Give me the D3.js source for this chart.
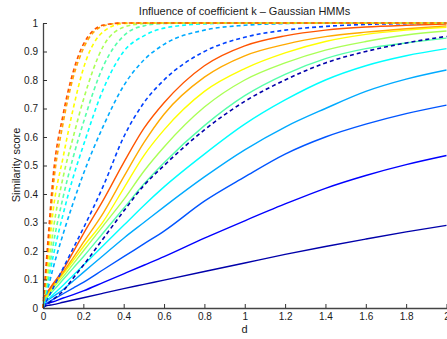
<!DOCTYPE html>
<html><head><meta charset="utf-8">
<script src="https://cdn.jsdelivr.net/npm/d3@7"></script>
<style>
html,body{margin:0;padding:0;background:#fff;}
svg{display:block;font-family:"Liberation Sans",Arial,Helvetica,sans-serif;}
</style></head>
<body>
<svg id="chart" width="447" height="339"></svg>
<script>
// ---- data ----
const dValues = [0, 0.025, 0.05, 0.1, 0.15, 0.2, 0.3, 0.4, 0.5, 0.6, 0.8, 1.0, 1.2, 1.4, 1.6, 1.8, 2.0];

// solid curves (bottom to top)
const solid1  = [0.005, 0.009, 0.012, 0.02, 0.028, 0.036, 0.052, 0.068, 0.083, 0.098, 0.128, 0.158, 0.188, 0.216, 0.242, 0.267, 0.29];
const solid2  = [0.01, 0.016, 0.022, 0.035, 0.047, 0.06, 0.09, 0.12, 0.15, 0.18, 0.245, 0.306, 0.365, 0.42, 0.465, 0.503, 0.535];
const solid3  = [0.01, 0.02, 0.03, 0.05, 0.07, 0.09, 0.135, 0.18, 0.225, 0.27, 0.375, 0.46, 0.54, 0.60, 0.645, 0.682, 0.712];
const solid4  = [0.015, 0.028, 0.04, 0.065, 0.095, 0.125, 0.185, 0.245, 0.30, 0.355, 0.46, 0.555, 0.635, 0.70, 0.76, 0.803, 0.835];
const solid5  = [0.015, 0.03, 0.047, 0.08, 0.115, 0.15, 0.22, 0.29, 0.36, 0.425, 0.54, 0.645, 0.73, 0.80, 0.85, 0.885, 0.91];
const solid6  = [0.02, 0.04, 0.06, 0.1, 0.14, 0.18, 0.265, 0.35, 0.435, 0.51, 0.64, 0.745, 0.82, 0.875, 0.91, 0.93, 0.947];
const solid7  = [0.02, 0.045, 0.07, 0.11, 0.155, 0.2, 0.29, 0.38, 0.48, 0.565, 0.705, 0.8, 0.86, 0.905, 0.935, 0.958, 0.972];
const solid8  = [0.025, 0.05, 0.075, 0.12, 0.167, 0.215, 0.305, 0.42, 0.535, 0.625, 0.76, 0.84, 0.895, 0.935, 0.96, 0.975, 0.985];
const solid9  = [0.03, 0.055, 0.08, 0.125, 0.177, 0.23, 0.335, 0.46, 0.58, 0.68, 0.81, 0.885, 0.925, 0.952, 0.968, 0.98, 0.99];
const solid10 = [0.035, 0.06, 0.085, 0.135, 0.197, 0.26, 0.38, 0.51, 0.63, 0.72, 0.85, 0.92, 0.955, 0.975, 0.986, 0.992, 0.996];

// dashed curves (bottom to top)
const dashed1 = [0, 0.015, 0.03, 0.06, 0.105, 0.15, 0.245, 0.34, 0.43, 0.50, 0.625, 0.725, 0.80, 0.86, 0.90, 0.93, 0.953];
const dashed2 = [0, 0.035, 0.07, 0.14, 0.21, 0.28, 0.43, 0.6, 0.72, 0.8, 0.9, 0.95, 0.975, 0.988, 0.995, 0.998, 1];
const dashed3 = [0, 0.07, 0.14, 0.26, 0.37, 0.47, 0.64, 0.78, 0.87, 0.925, 0.975, 0.992, 0.998, 1, 1, 1, 1];
const dashed4 = [0, 0.09, 0.18, 0.33, 0.46, 0.57, 0.77, 0.9, 0.955, 0.982, 0.997, 1, 1, 1, 1, 1, 1];
const dashed5 = [0, 0.11, 0.22, 0.39, 0.53, 0.65, 0.85, 0.955, 0.99, 0.998, 1, 1, 1, 1, 1, 1, 1];
const dashed6 = [0, 0.13, 0.27, 0.46, 0.6, 0.73, 0.92, 0.985, 0.998, 1, 1, 1, 1, 1, 1, 1, 1];
const dashed7 = [0, 0.17, 0.34, 0.53, 0.70, 0.84, 0.97, 0.998, 1, 1, 1, 1, 1, 1, 1, 1, 1];
const dashed8 = [0, 0.21, 0.42, 0.65, 0.81, 0.91, 0.99, 1, 1, 1, 1, 1, 1, 1, 1, 1, 1];
const dashed9 = [0, 0.24, 0.46, 0.68, 0.83, 0.925, 0.993, 1, 1, 1, 1, 1, 1, 1, 1, 1, 1];

const solidColors  = ["#0000aa", "#0000ff", "#0055ff", "#00aaff", "#00ffff", "#55ffaa", "#aaff55", "#ffff00", "#ffaa00", "#ff5500"];
const dashedColors = ["#0000aa", "#0040ff", "#00aaff", "#00ffff", "#55ffaa", "#aaff55", "#ffff00", "#ffaa00", "#ff5500"];

const xTicks = [0, 0.2, 0.4, 0.6, 0.8, 1, 1.2, 1.4, 1.6, 1.8, 2];
const yTicks = [0, 0.1, 0.2, 0.3, 0.4, 0.5, 0.6, 0.7, 0.8, 0.9, 1];

const titleText = "Influence of coefficient k \u2013 Gaussian HMMs";
const xLabel = "d";
const yLabel = "Similarity score";

// ---- drawing ----
const solidSeries = [solid1, solid2, solid3, solid4, solid5, solid6, solid7, solid8, solid9, solid10];
const dashedSeries = [dashed1, dashed2, dashed3, dashed4, dashed5, dashed6, dashed7, dashed8, dashed9];

const svg = d3.select("#chart");
const x = d3.scaleLinear().domain([0, 2]).range([43, 446.5]);
const y = d3.scaleLinear().domain([0, 1]).range([308, 23]);

const line = d3.line().x((v, i) => x(dValues[i])).y(v => y(v)).curve(d3.curveMonotoneX);

const g = svg.append("g");
solidSeries.forEach((s, i) => {
  g.append("path").attr("d", line(s)).attr("fill", "none")
    .attr("stroke", solidColors[i]).attr("stroke-width", 1.4)
    .attr("stroke-linejoin", "round");
});
dashedSeries.forEach((s, i) => {
  g.append("path").attr("d", line(s)).attr("fill", "none")
    .attr("stroke", dashedColors[i]).attr("stroke-width", 1.6)
    .attr("stroke-dasharray", "4,3");
});

const fmt = v => String(+v.toFixed(1));
const yAxis = svg.append("g").attr("transform", "translate(43,0)")
  .call(d3.axisLeft(y).tickValues(yTicks).tickFormat(fmt).tickSizeInner(-4).tickSizeOuter(0).tickPadding(5));
const xAxis = svg.append("g").attr("transform", "translate(0,308)")
  .call(d3.axisBottom(x).tickValues(xTicks).tickFormat(fmt).tickSizeInner(-4).tickSizeOuter(0).tickPadding(5));
[yAxis, xAxis].forEach(a => {
  a.selectAll("text").attr("font-size", 10).attr("fill", "#1a1a1a")
    .attr("font-family", "'Liberation Sans',Arial,Helvetica,sans-serif");
  a.selectAll("line").attr("stroke", "#333");
  a.select(".domain").attr("stroke", "#444").attr("stroke-width", 1.3);
});

svg.append("text").attr("x", 244.5).attr("y", 14.5).attr("text-anchor", "middle")
  .attr("font-size", 11).attr("fill", "#1a1a1a").text(titleText);
svg.append("text").attr("x", 244.5).attr("y", 333).attr("text-anchor", "middle")
  .attr("font-size", 11).attr("fill", "#1a1a1a").text(xLabel);
svg.append("text").attr("transform", "translate(20,165) rotate(-90)").attr("text-anchor", "middle")
  .attr("font-size", 11).attr("fill", "#1a1a1a").text(yLabel);
</script>
</body></html>
